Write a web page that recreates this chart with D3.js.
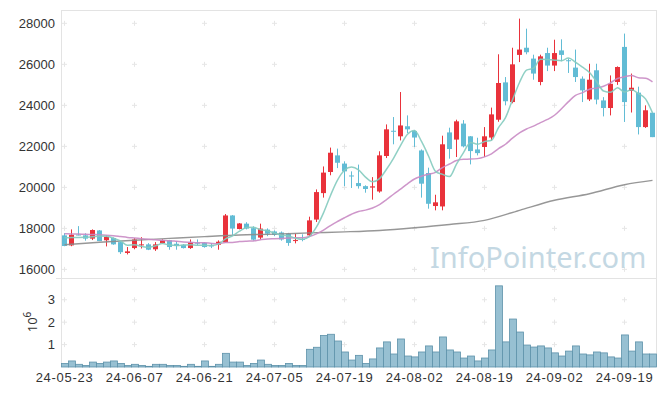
<!DOCTYPE html>
<html lang="en">
<head>
<meta charset="UTF-8">
<title>Candlestick chart</title>
<style>
  body { margin: 0; background: #fff; }
  svg { font-family: "Noto Sans", sans-serif; }
  .axis text { font-size: 13px; fill: #333; }
  .x-axis text { letter-spacing: 0.7px; }
  .frame { stroke: #e3e3e3; stroke-width: 1; fill: none; }
  .grid-mark { stroke: #e6e6e6; stroke-width: 1; }
</style>
</head>
<body>
<svg id="chart" width="665" height="396"></svg>
<script src="https://d3js.org/d3.v7.min.js"></script>
<script>
// trading days
const dates = [
  "2024-05-23","2024-05-24","2024-05-27","2024-05-28","2024-05-29","2024-05-30","2024-05-31","2024-06-03","2024-06-04","2024-06-05",
  "2024-06-07","2024-06-10","2024-06-11","2024-06-12","2024-06-13","2024-06-14","2024-06-17","2024-06-18","2024-06-19","2024-06-20",
  "2024-06-21","2024-06-24","2024-06-25","2024-06-26","2024-06-27","2024-06-28","2024-07-01","2024-07-02","2024-07-03","2024-07-04",
  "2024-07-05","2024-07-08","2024-07-09","2024-07-10","2024-07-11","2024-07-12","2024-07-15","2024-07-16","2024-07-17","2024-07-18",
  "2024-07-19","2024-07-22","2024-07-23","2024-07-24","2024-07-25","2024-07-26","2024-07-29","2024-07-30","2024-07-31","2024-08-01",
  "2024-08-02","2024-08-05","2024-08-06","2024-08-07","2024-08-08","2024-08-09","2024-08-12","2024-08-13","2024-08-14","2024-08-16",
  "2024-08-19","2024-08-20","2024-08-21","2024-08-22","2024-08-23","2024-08-26","2024-08-27","2024-08-28","2024-08-29","2024-08-30",
  "2024-09-02","2024-09-03","2024-09-04","2024-09-05","2024-09-06","2024-09-09","2024-09-10","2024-09-11","2024-09-12","2024-09-13",
  "2024-09-19","2024-09-20","2024-09-23","2024-09-24","2024-09-25"
];

const open = [
  17660,17170,17700,17660,17500,17900,17420,17530,17330,16800,
  17040,17180,17220,16980,17280,17420,17250,17200,17040,17300,
  17300,17170,17200,17320,18630,17970,18230,18010,17550,17940,
  17850,17800,17740,17400,17480,17660,18430,19720,20750,21560,
  21160,20580,20210,20060,19990,19800,21530,22760,22490,22980,
  22750,21800,20700,19090,19070,22680,22330,23110,22490,21850,
  21970,22430,23300,25120,24160,26460,26810,26280,25140,26550,
  25940,26680,26200,25840,25300,24290,25710,24240,23870,25140,
  26850,24700,24620,22940,23640
];
const high = [
  17770,17950,18110,17760,17950,17920,17660,17560,17340,17090,
  17530,17570,17280,17330,17470,17440,17380,17230,17460,17460,
  17330,17290,17415,18700,18650,18260,18300,18100,18230,18000,
  17900,17850,17780,17750,17710,18570,19900,21020,21940,21890,
  21270,20780,21110,20100,20500,21760,23070,23430,24650,23510,
  22800,21850,20960,19640,22520,22910,23300,23280,22500,22420,
  22940,23890,26490,25380,26810,28230,27740,26470,26470,26810,
  27200,27220,26280,26720,25410,26030,26030,24400,25460,25900,
  27500,25550,24910,24000,23650
];
const low = [
  17130,17130,17660,17400,17430,17380,17120,17200,16750,16730,
  16980,17020,16940,16900,17250,16960,16960,17020,17000,17170,
  17060,17040,16960,17300,17690,17950,17950,17400,17450,17620,
  17620,17400,17150,17270,17370,17600,18310,19500,20590,20940,
  20060,19970,19940,19740,19400,19740,21430,22100,22290,22650,
  21970,19500,18960,18880,18880,21400,21480,21950,21120,21560,
  21480,22290,23200,24000,24100,26110,26490,25250,24980,25670,
  25670,26150,25580,25140,24160,24210,24050,23460,23510,25000,
  23190,23650,22580,22900,22450
];
const close = [
  17140,17690,17680,17500,17920,17380,17580,17220,16840,16880,
  17460,17220,16960,17220,17430,17090,17140,17040,17320,17270,
  17090,17120,17350,18630,17990,18240,17990,17450,17990,17740,
  17680,17460,17290,17430,17460,18390,19770,20720,21690,21200,
  20780,20550,20060,19920,20050,21560,22830,22730,23020,22830,
  22430,20180,19200,19270,22100,21870,23220,22000,21770,21670,
  22490,23560,25090,24200,26000,26720,26590,25550,26390,25940,
  26550,26460,26180,25380,24730,25250,24280,23870,25050,25870,
  24160,24860,22940,23760,22450
];
const volume = [
  160000,270000,120000,70000,220000,160000,220000,270000,160000,70000,
  120000,70000,30000,120000,120000,70000,70000,30000,120000,30000,
  270000,30000,120000,610000,220000,220000,70000,160000,310000,120000,
  70000,70000,160000,70000,70000,790000,880000,1410000,1460000,1160000,
  670000,310000,520000,160000,360000,850000,1120000,580000,1250000,490000,
  450000,670000,940000,670000,1340000,760000,670000,400000,490000,270000,
  400000,760000,3620000,1120000,2140000,1560000,980000,890000,940000,850000,
  630000,490000,710000,940000,580000,540000,670000,630000,450000,400000,
  1430000,710000,1120000,580000,580000
];

// moving averages
const ma5 = [
  17540,17550,17560,17570,17586,17634,17612,17520,17388,17180,
  17196,17124,17072,17148,17258,17184,17168,17184,17204,17172,
  17172,17168,17230,17492,17636,17866,18040,18060,17932,17882,
  17770,17664,17632,17520,17464,17606,18068,18754,19606,20354,
  20832,20988,20856,20502,20272,20428,20884,21418,22038,22594,
  22768,22238,21532,20782,20636,20524,21132,21692,22192,22106,
  22230,22298,22916,23402,24268,25114,25720,25812,26250,26238,
  26204,26178,26304,26102,25860,25600,25164,24702,24636,24864,
  24646,24762,24576,24318,23634
];
const ma20 = [
  17740,17730,17720,17710,17700,17690,17670,17640,17600,17560,
  17530,17500,17470,17440,17420,17400,17370,17340,17320,17299,
  17297,17268,17252,17308,17312,17355,17375,17387,17444,17487,
  17498,17510,17527,17537,17539,17604,17735,17919,18138,18334,
  18519,18690,18826,18890,18993,19159,19401,19665,19917,20171,
  20409,20545,20640,20732,20964,21138,21311,21375,21379,21402,
  21488,21638,21890,22104,22401,22659,22847,22988,23157,23312,
  23518,23832,24181,24487,24618,24787,24840,24934,25098,25308,
  25391,25456,25349,25327,25149
];
const maLongDates = [
  "2024-05-23","2024-05-30","2024-06-07","2024-06-14","2024-06-21","2024-06-28","2024-07-05","2024-07-12","2024-07-19",
  "2024-07-26","2024-08-02","2024-08-09","2024-08-19","2024-08-26","2024-09-02","2024-09-09","2024-09-19","2024-09-25"
];
const maLong = [
  17200,17320,17420,17510,17600,17680,17720,17780,17830,
  17900,18030,18190,18390,18880,19370,19690,20130,20340
];

const priceTicks = [16000, 18000, 20000, 22000, 24000, 26000, 28000];
const volumeTicks = [1000000, 2000000, 3000000];
const dateTicks = ["2024-05-23","2024-06-07","2024-06-21","2024-07-05","2024-07-19","2024-08-02","2024-08-19","2024-09-02","2024-09-19"];

const candles = dates.map((d, i) => ({
  date: d, open: open[i], high: high[i], low: low[i], close: close[i], volume: volume[i]
}));

const svg = d3.select("#chart");
const plotLeft = 61, plotRight = 656, plotTop = 10, plotMid = 278, plotBottom = 367;

const x = d3.scaleBand().domain(dates).range([plotLeft, plotRight]).padding(0);
const bw = x.bandwidth();
const cx = d => x(d) + bw / 2;

const y = d3.scaleLinear().domain([15580, 28650]).range([plotMid, plotTop]);
const yv = d3.scaleLinear().domain([0, 3970000]).range([plotBottom, plotMid]);

// frame
svg.append("line").attr("class", "frame").attr("x1", plotLeft).attr("x2", plotRight + 0.5).attr("y1", plotTop + 0.5).attr("y2", plotTop + 0.5);
svg.append("line").attr("class", "frame").attr("x1", plotLeft - 5).attr("x2", plotRight + 0.5).attr("y1", plotMid + 0.5).attr("y2", plotMid + 0.5);
svg.append("line").attr("class", "frame").attr("x1", plotRight + 0.5).attr("x2", plotRight + 0.5).attr("y1", plotTop).attr("y2", plotBottom);
svg.append("line").attr("class", "frame").attr("x1", plotLeft + 0.5).attr("x2", plotLeft + 0.5).attr("y1", plotTop).attr("y2", plotBottom);

// small "+" grid marks
const marks = [];
dateTicks.forEach(d => {
  priceTicks.forEach(v => marks.push([cx(d), y(v)]));
  volumeTicks.forEach(v => marks.push([cx(d), yv(v)]));
});
const mg = svg.append("g");
marks.forEach(([mx, my]) => {
  mg.append("line").attr("class", "grid-mark").attr("x1", mx - 2.5).attr("x2", mx + 2.5).attr("y1", my).attr("y2", my);
  mg.append("line").attr("class", "grid-mark").attr("x1", mx).attr("x2", mx).attr("y1", my - 2.5).attr("y2", my + 2.5);
});

// watermark
svg.append("text")
  .attr("x", 430).attr("y", 268)
  .attr("font-size", 29)
  .attr("fill", "#c4d8e3")
  .text("InfoPointer.com");

// volume bars
svg.append("g").selectAll("rect")
  .data(candles)
  .join("rect")
  .attr("x", d => x(d.date) + 0.5)
  .attr("width", bw)
  .attr("y", d => yv(d.volume))
  .attr("height", d => plotBottom - yv(d.volume))
  .attr("fill", "#97c0d2")
  .attr("stroke", "#5e92aa")
  .attr("stroke-width", 0.8);

// candles
const upColor = "#e9323b", downColor = "#62bcd5";
const cg = svg.append("g").selectAll("g").data(candles).join("g");
cg.append("line")
  .attr("x1", d => cx(d.date)).attr("x2", d => cx(d.date))
  .attr("y1", d => y(d.high)).attr("y2", d => y(d.low))
  .attr("stroke", d => d.close >= d.open ? upColor : downColor)
  .attr("stroke-width", 1);
cg.append("rect")
  .attr("x", d => cx(d.date) - 2.5)
  .attr("width", 5)
  .attr("y", d => y(Math.max(d.open, d.close)))
  .attr("height", d => Math.max(1, Math.abs(y(d.open) - y(d.close))))
  .attr("fill", d => d.close >= d.open ? upColor : downColor);

// moving average lines
const line = d3.line().x(d => cx(d[0])).y(d => y(d[1])).curve(d3.curveMonotoneX);
svg.append("path").datum(maLongDates.map((d, i) => [d, maLong[i]]))
  .attr("d", line).attr("fill", "none").attr("stroke", "#8c8c8c").attr("stroke-width", 1.4).attr("stroke-opacity", 0.9);
svg.append("path").datum(dates.map((d, i) => [d, ma20[i]]))
  .attr("d", line).attr("fill", "none").attr("stroke", "#c98bc4").attr("stroke-width", 1.5).attr("stroke-opacity", 0.9);
svg.append("path").datum(dates.map((d, i) => [d, ma5[i]]))
  .attr("d", line).attr("fill", "none").attr("stroke", "#84cbbf").attr("stroke-width", 1.5).attr("stroke-opacity", 0.9);

// axes
const yAxis = svg.append("g").attr("class", "axis")
  .attr("transform", `translate(${plotLeft},0)`)
  .call(d3.axisLeft(y).tickValues(priceTicks).tickSize(0).tickPadding(6).tickFormat(d3.format("d")));
yAxis.select(".domain").remove();

const vAxis = svg.append("g").attr("class", "axis")
  .attr("transform", `translate(${plotLeft},0)`)
  .call(d3.axisLeft(yv).tickValues(volumeTicks).tickSize(0).tickPadding(6).tickFormat(d => d / 1e6));
vAxis.select(".domain").remove();

const xAxis = svg.append("g").attr("class", "axis x-axis")
  .attr("transform", `translate(0,${plotBottom})`)
  .call(d3.axisBottom(x).tickValues(dateTicks).tickSize(0).tickPadding(6).tickFormat(d => d.slice(2)));
xAxis.select(".domain").remove();

// 10^6 unit label
const unit = svg.append("text")
  .attr("transform", "translate(37,322) rotate(-90)")
  .attr("text-anchor", "middle")
  .attr("font-size", 13)
  .attr("fill", "#333");
unit.append("tspan").text("10");
unit.append("tspan").attr("dy", -6).attr("font-size", 10).text("6");
</script>
</body>
</html>
